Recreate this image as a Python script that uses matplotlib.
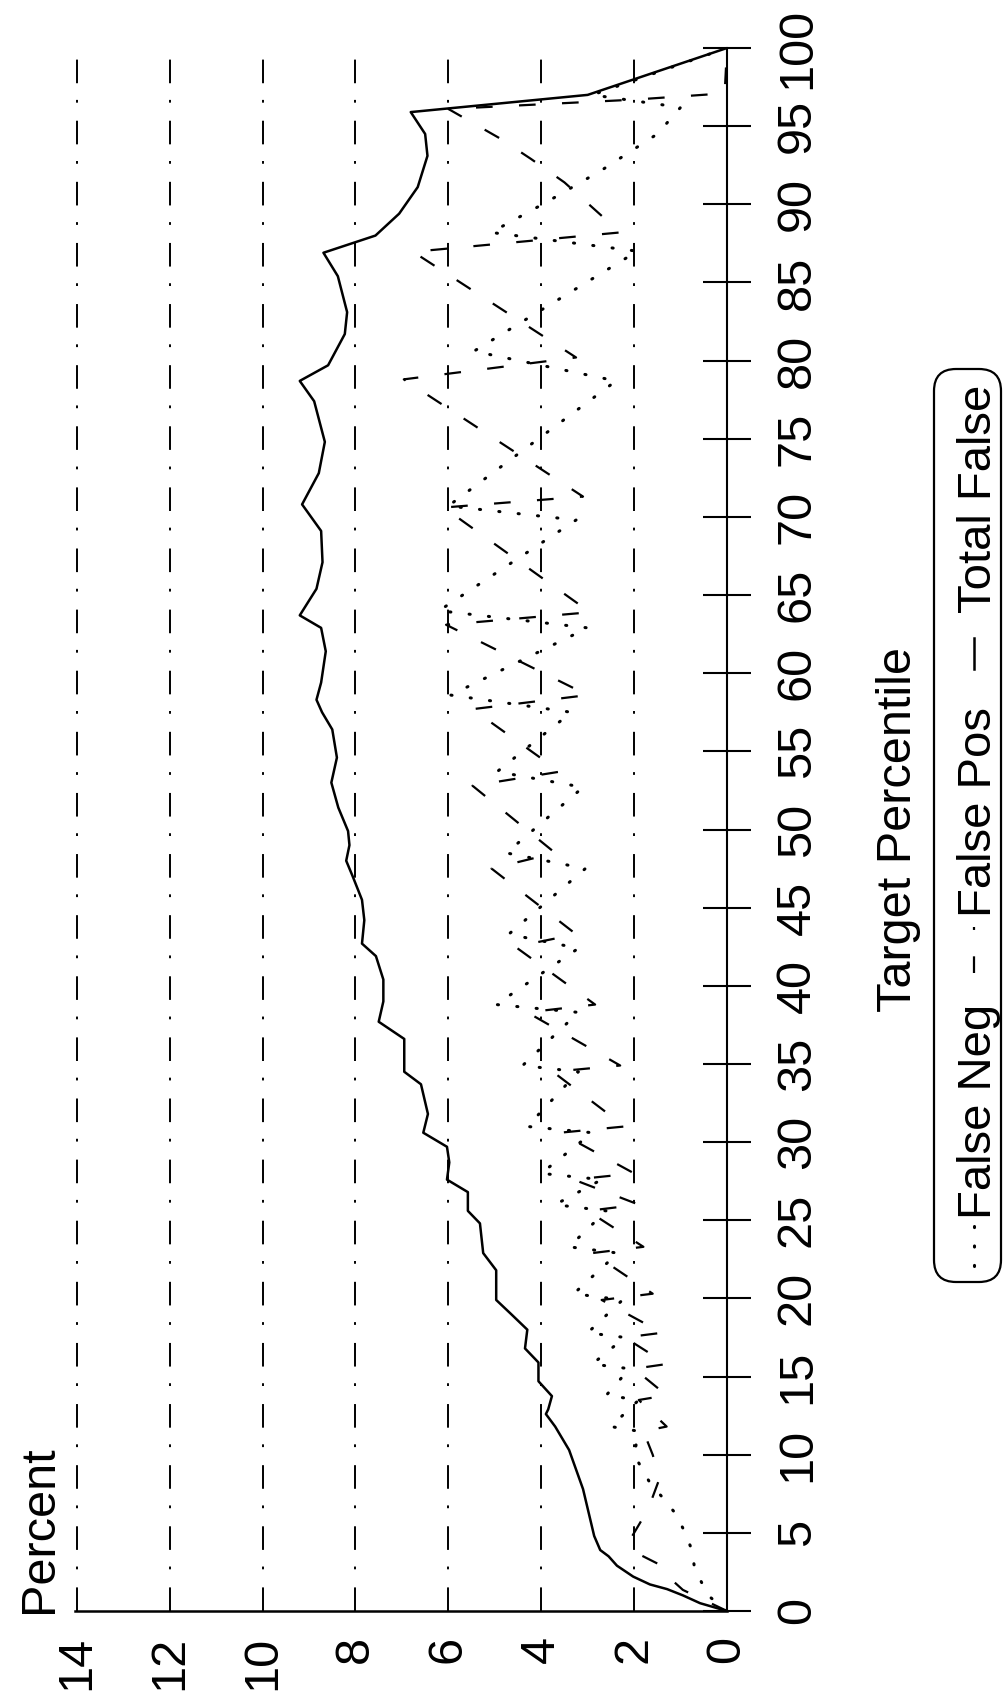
import matplotlib
matplotlib.use("Agg")
import matplotlib.pyplot as plt
from matplotlib import font_manager
from matplotlib.lines import Line2D
from matplotlib.patches import FancyBboxPatch

fn_pct = [0, 1, 2.75, 3.85, 5, 6.2, 7.2, 8.2, 10, 11.5, 11.8, 13.5, 13.8, 15.5, 15.8, 17.5,
          17.8, 19.9, 20.3, 22.9, 23.3, 25.6, 26.0, 27.6, 28.0, 30.6, 31.0, 34.5, 34.9, 38.3,
          38.8, 42.4, 43.3, 47.5, 48.5, 52.7, 53.7, 57.5, 58.6, 62.9, 64.0, 69.8, 70.7, 78.7,
          80.6, 87.0, 88.2, 90.1, 92.2, 94.5, 96.2, 97.0, 100]
fn_val = [0, 0.41, 0.7, 0.75, 0.9, 1.1, 1.37, 1.66, 2.0, 1.9, 2.5, 1.9, 2.6, 2.1, 2.9, 2.2,
          3.0, 2.25, 3.3, 2.35, 3.4, 2.6, 3.7, 2.7, 4.0, 2.9, 4.3, 3.2, 4.4, 3.2,
          4.97, 3.2, 4.7, 3.05, 4.75, 3.1, 4.95, 3.35, 5.95, 3.0, 6.2, 3.25, 6.0, 2.39,
          5.45, 1.93, 5.08, 3.91, 2.69, 1.5, 1.0, 2.9, 0]

fp_pct = [0, 1.35, 2.1, 2.95, 3.7, 4.5, 6.5, 8.5, 10, 11.5, 11.8, 13.5, 13.8, 15.5, 15.8,
          17.5, 17.8, 19.9, 20.3, 22.9, 23.3, 25.6, 26.0, 27.6, 28.0, 30.6, 31.0, 34.5, 34.9,
          38.3, 38.8, 42.5, 43.3, 47.5, 48.5, 52.8, 53.7, 57.7, 58.6, 63.1, 63.9, 70.6, 71.3,
          78.8, 80.2, 86.96, 88.2, 91.4, 92.9, 94.2, 96.1, 96.7, 97.1, 100]
fp_val = [0, 0.95, 1.23, 1.44, 1.94, 2.1, 1.7, 1.45, 1.6, 1.8, 1.3, 1.9, 1.3, 2.0, 1.3,
          2.2, 1.4, 2.7, 1.6, 2.9, 1.8, 3.0, 1.9, 3.3, 2.0, 3.6, 2.2, 3.75, 2.3,
          4.3, 2.84, 4.56, 3.25, 5.07, 3.7, 5.48, 3.6, 5.48, 3.0, 6.05, 2.95, 6.1, 3.1,
          6.96, 3.25, 6.76, 2.3, 3.5, 4.22, 4.88, 6.0, 1.98, 0.05, 0]

tot_pct = [0, 0.5, 1.0, 1.4, 1.7, 2.2, 2.9, 3.5, 3.9, 4.8, 7.8, 10.3, 11.8, 12.6, 12.9, 13.75,
           14.7, 15.9, 16.8, 18.0, 19.0, 19.9, 21.8, 22.9, 24.8, 25.6, 26.8, 27.6, 28.7, 29.7,
           30.6, 31.8, 33.7, 34.5, 36.6, 37.7, 39.0, 40.4, 41.9, 42.7, 44.2, 45.5, 47.0, 48.0,
           49.0, 49.9, 51.4, 53.0, 54.6, 56.4, 57.5, 58.3, 59.4, 61.4, 62.9, 63.7, 65.4, 67.1,
           69.1, 70.8, 72.8, 74.8, 77.4, 78.7, 79.7, 81.7, 83.1, 85.4, 86.9, 88.0, 89.4, 91.1,
           93.1, 94.5, 95.9, 97.0, 100]
tot_val = [0, 0.58, 0.95, 1.29, 1.66, 2.02, 2.37, 2.55, 2.73, 2.86, 3.1, 3.4, 3.7, 3.9, 3.85, 3.77,
           4.06, 4.06, 4.35, 4.3, 4.65, 4.97, 4.97, 5.25, 5.32, 5.58, 5.58, 6.03, 5.98, 6.03,
           6.54, 6.44, 6.59, 6.95, 6.95, 7.5, 7.4, 7.4, 7.56, 7.86, 7.81, 7.86, 8.06, 8.2,
           8.13, 8.16, 8.37, 8.52, 8.4, 8.5, 8.72, 8.84, 8.74, 8.64, 8.74, 9.2, 8.84, 8.71,
           8.74, 9.15, 8.79, 8.66, 8.89, 9.2, 8.59, 8.23, 8.18, 8.38, 8.69, 7.57, 7.06, 6.66,
           6.45, 6.5, 6.81, 3.0, 0]

pct_ticks = list(range(0, 101, 5))
val_ticks = list(range(0, 15, 2))
series_names = ["False Neg", "False Pos", "Total False"]

# fonts: narrow digits for ticks, normal sans for labels
def have(name):
    try:
        font_manager.findfont(name, fallback_to_default=False)
        return True
    except Exception:
        return False

narrow = "Liberation Sans Narrow" if have("Liberation Sans Narrow") else "Liberation Sans"
plt.rcParams["font.family"] = [narrow, "Liberation Sans", "DejaVu Sans"]
plt.rcParams["lines.scale_dashes"] = False
label_font = ["Liberation Sans", "DejaVu Sans"]

W, H = 1004, 1698
fig = plt.figure(figsize=(W / 100, H / 100), dpi=100)

# axes box in pixels (top-left origin)
x_left, x_right = 75, 727
y_top, y_bot = 48, 1611
ax = fig.add_axes([x_left / W, 1 - y_bot / H, (x_right - x_left) / W, (y_bot - y_top) / H])

dotted = dict(color="black", lw=2.2, dashes=(0.8, 13.2), dash_capstyle="round")
dashed = dict(color="black", lw=1.6, dashes=(12, 19))
solid = dict(color="black", lw=1.8)

ax.plot(fn_val, fn_pct, **dotted)
ax.plot(fp_val, fp_pct, **dashed)
ax.plot(tot_val, tot_pct, **solid)

ax.set_xlim(14.04, 0)
ax.set_ylim(0, 100)

for v in val_ticks[1:]:
    ax.axvline(v, color="black", lw=1.4, dashes=(17, 13, 2, 12), zorder=0)

for s in ["top", "left"]:
    ax.spines[s].set_visible(False)
ax.spines["right"].set_linewidth(1.5)
ax.spines["bottom"].set_linewidth(1.8)

ax.yaxis.tick_right()
ax.set_yticks(pct_ticks)
ax.set_yticklabels([str(t) for t in pct_ticks])
ax.tick_params(axis="y", direction="inout", length=35, width=1.5, pad=17,
               labelsize=35, labelrotation=90)
for lbl in ax.get_yticklabels():
    lbl.set_va("center")

ax.set_xticks(val_ticks)
ax.set_xticklabels([str(t) for t in val_ticks])
ax.tick_params(axis="x", length=0, pad=18, labelsize=35, labelrotation=90)


def fx(px):
    return px / 100


def fy(py):
    return (H - py) / 100


tr = fig.dpi_scale_trans

fig.text(fx(52), fy(1613), "Percent", transform=tr, rotation=90, rotation_mode="anchor",
         ha="left", va="baseline", fontsize=35, family=label_font)
fig.text(fx(911), fy(829), "Target Percentile", transform=tr, rotation=90,
         rotation_mode="anchor", ha="center", va="baseline", fontsize=35, family=label_font)

# legend, drawn by hand so it can run along the rotated page
box = FancyBboxPatch((fx(934), fy(1282)), fx(1001 - 934), (1282 - 369) / 100,
                     boxstyle="round,pad=0,rounding_size=0.22", transform=tr,
                     fill=False, lw=1.6, edgecolor="black")
fig.add_artist(box)

hx = fx(974)
fig.add_artist(Line2D([hx, hx], [fy(1266), fy(1224)], transform=tr, **dotted))
fig.add_artist(Line2D([hx, hx], [fy(973), fy(927)], transform=tr, **dashed))
fig.add_artist(Line2D([hx, hx], [fy(669), fy(638)], transform=tr, **solid))

for name, start in zip(series_names, [1219, 917, 613]):
    fig.text(fx(991), fy(start), name, transform=tr, rotation=90, rotation_mode="anchor",
             ha="left", va="baseline", fontsize=34, family=label_font)

fig.savefig("out.png", dpi=100, facecolor="white")
